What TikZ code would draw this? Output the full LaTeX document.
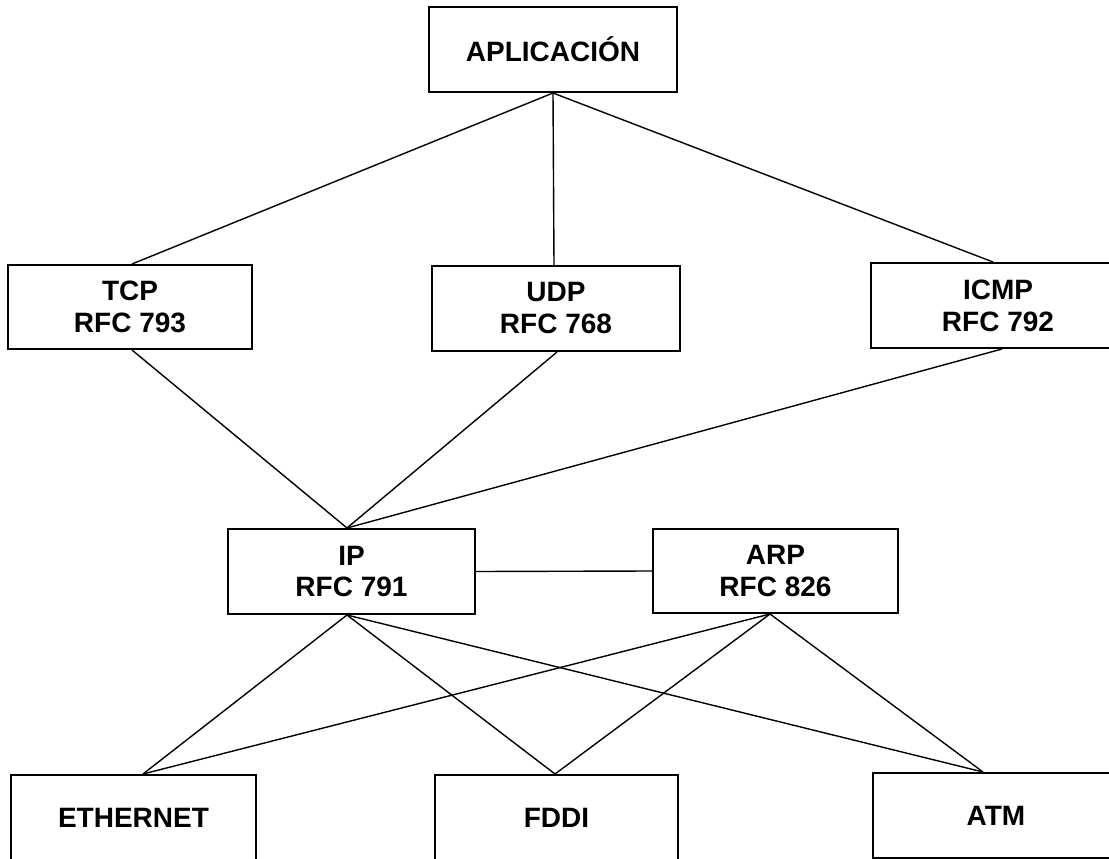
\documentclass[tikz,border=0pt]{standalone}
\usepackage{fontspec}
\setmainfont{Liberation Sans}
\begin{document}
\begin{tikzpicture}[x=1pt,y=-1pt,
  layerbox/.style={draw=black, line width=2pt, fill=white, rectangle, inner sep=0pt,
    align=center, font=\fontsize{28}{32}\selectfont\bfseries},
  link/.style={draw=black, line width=1.4pt}]
\useasboundingbox (0,0) rectangle (1109,859);
\clip (0,0) rectangle (1109,859);
\fill[white] (0,0) rectangle (1109,859);

% protocol boxes
\node[layerbox, minimum width=248pt, minimum height=85pt] (apl)  at (553,49.5)   {APLICACIÓN};
\node[layerbox, minimum width=244pt, minimum height=84pt] (tcp)  at (130,307)    {TCP\\RFC 793};
\node[layerbox, minimum width=248pt, minimum height=85pt] (udp)  at (556,308.5)  {UDP\\RFC 768};
\node[layerbox, minimum width=254pt, minimum height=85pt] (icmp) at (998,305.5)  {ICMP\\RFC 792};
\node[layerbox, minimum width=247pt, minimum height=85pt] (ip)   at (351.5,571.5) {IP\\RFC 791};
\node[layerbox, minimum width=245pt, minimum height=84pt] (arp)  at (775.5,571)  {ARP\\RFC 826};
\node[layerbox, minimum width=245pt, minimum height=85pt] (eth)  at (133.5,817.5) {ETHERNET};
\node[layerbox, minimum width=243pt, minimum height=85pt] (fddi) at (556.5,817.5) {FDDI};
\node[layerbox, minimum width=246pt, minimum height=85pt] (atm)  at (996,815.5)  {ATM};

% attachment points on the box edges
\coordinate (ipTop) at ([xshift=-4.5pt]ip.north);
\coordinate (ipBot) at ([xshift=-4.5pt]ip.south);
\coordinate (arpBot) at ([xshift=-5.5pt]arp.south);
\coordinate (ethTop) at ([xshift=9.5pt]eth.north);
\coordinate (fddiTop) at ([xshift=-1.5pt]fddi.north);
\coordinate (atmTop) at ([xshift=-13pt]atm.north);

% application to transport
\draw[link] (apl.south) -- ([xshift=2pt]tcp.north);
\draw[link] (apl.south) -- ([xshift=-2pt]udp.north);
\draw[link] (apl.south) -- ([xshift=-5pt]icmp.north);

% transport to IP
\draw[link] ([xshift=2pt]tcp.south) -- (ipTop);
\draw[link] ([xshift=1pt]udp.south) -- (ipTop);
\draw[link] ([xshift=4pt]icmp.south) -- (ipTop);

% IP and ARP
\draw[link] (ip.east) -- (arp.west);

% network access
\draw[link] (ipBot) -- (ethTop);
\draw[link] (ipBot) -- (fddiTop);
\draw[link] (ipBot) -- (atmTop);
\draw[link] (arpBot) -- (ethTop);
\draw[link] (arpBot) -- (fddiTop);
\draw[link] (arpBot) -- (atmTop);
\end{tikzpicture}
\end{document}
